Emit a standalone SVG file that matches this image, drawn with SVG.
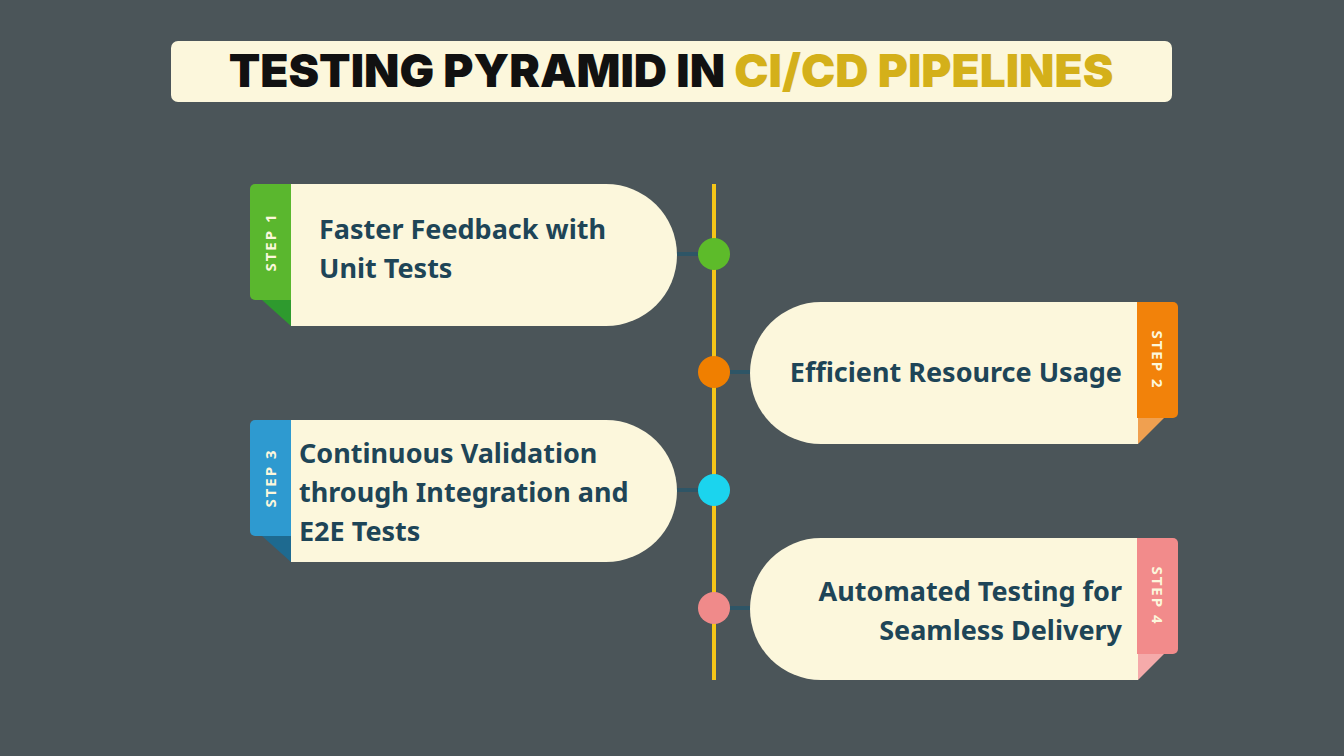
<svg xmlns="http://www.w3.org/2000/svg" width="1344" height="756" viewBox="0 0 1344 756">
<style>
.card{fill:#FCF7DC}
.t{font-family:"Noto Sans",sans-serif;font-weight:700;font-size:27px;fill:#1E4557}
.s{font-family:"Noto Sans",sans-serif;font-weight:700;font-size:15px;fill:#FCF7DC;letter-spacing:2px}
.ttl{font-family:"Inter","Liberation Sans",sans-serif;font-weight:900;font-size:46px}
</style>
<rect width="1344" height="756" fill="#4B5559"/>
<rect x="171" y="41" width="1001" height="61" rx="7" fill="#FCF7DC"/>
<text x="671" y="87" text-anchor="middle" class="ttl"><tspan fill="#111">TESTING PYRAMID IN </tspan><tspan fill="#D4B01A">CI/CD PIPELINES</tspan></text>
<g id="connectors">
<line x1="714" y1="184" x2="714" y2="680" stroke="#F5C518" stroke-width="4"/>
<g stroke="#2E5566" stroke-width="4">
<line x1="677" y1="254" x2="698" y2="254"/><line x1="730" y1="372" x2="750" y2="372"/>
<line x1="677" y1="490" x2="698" y2="490"/><line x1="730" y1="608" x2="750" y2="608"/>
</g>
<circle cx="714" cy="254" r="16" fill="#5DBB2A"/>
<circle cx="714" cy="372" r="16" fill="#F07F00"/>
<circle cx="714" cy="490" r="16" fill="#1BD4EE"/>
<circle cx="714" cy="608" r="16" fill="#F08A8A"/>
</g>
<g id="step1">
<path class="card" d="M291 184 H606 A71 71 0 0 1 606 326 H291 Z"/>
<path d="M262 300 H291 V326 Z" fill="#2E9A2E"/>
<rect x="250" y="184" width="41" height="116" rx="5" fill="#5AB72E"/><rect x="280" y="184" width="11" height="116" fill="#5AB72E"/>
<text class="s" transform="translate(276,242) rotate(-90)" text-anchor="middle">STEP 1</text>
<text class="t" x="319" y="239">Faster Feedback with</text>
<text class="t" x="319" y="278">Unit Tests</text>
</g>
<g id="step2">
<path class="card" d="M1138 302 H821 A71 71 0 0 0 821 444 H1138 Z"/>
<path d="M1138 418 H1164 L1138 444 Z" fill="#F0A050"/>
<rect x="1137" y="302" width="41" height="116" rx="5" fill="#F2820A"/><rect x="1137" y="302" width="11" height="116" fill="#F2820A"/>
<text class="s" transform="translate(1152,360) rotate(90)" text-anchor="middle">STEP 2</text>
<text class="t" x="1122" y="382" text-anchor="end">Efficient Resource Usage</text>
</g>
<g id="step3">
<path class="card" d="M291 420 H606 A71 71 0 0 1 606 562 H291 Z"/>
<path d="M262 536 H291 V562 Z" fill="#1E6A90"/>
<rect x="250" y="420" width="41" height="116" rx="5" fill="#2E9AD0"/><rect x="280" y="420" width="11" height="116" fill="#2E9AD0"/>
<text class="s" transform="translate(276,478) rotate(-90)" text-anchor="middle">STEP 3</text>
<text class="t" x="299" y="463">Continuous Validation</text>
<text class="t" x="299" y="502">through Integration and</text>
<text class="t" x="299" y="541">E2E Tests</text>
</g>
<g id="step4">
<path class="card" d="M1138 538 H821 A71 71 0 0 0 821 680 H1138 Z"/>
<path d="M1138 654 H1164 L1138 680 Z" fill="#F5AAAA"/>
<rect x="1137" y="538" width="41" height="116" rx="5" fill="#F28B8B"/><rect x="1137" y="538" width="11" height="116" fill="#F28B8B"/>
<text class="s" transform="translate(1152,596) rotate(90)" text-anchor="middle">STEP 4</text>
<text class="t" x="1122" y="601" text-anchor="end">Automated Testing for</text>
<text class="t" x="1122" y="640" text-anchor="end">Seamless Delivery</text>
</g>
</svg>
